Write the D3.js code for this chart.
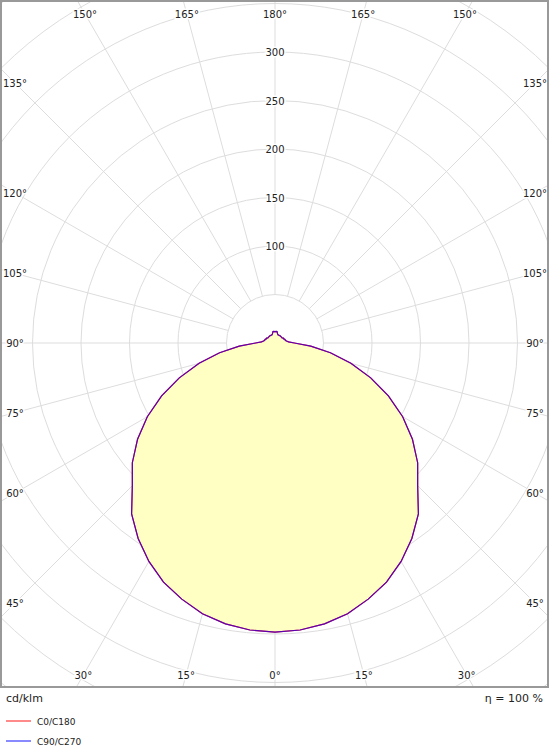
<!DOCTYPE html><html><head><meta charset="utf-8"><script src="https://cdn.jsdelivr.net/npm/d3@7"></script>
<style>body{margin:0;background:#fff}text{font-family:"DejaVu Sans",sans-serif;font-size:10px;fill:#222}</style></head><body><svg width="550" height="750"></svg>
<script>
const angles=d3.range(0,181,5);
const c0=[298,297,294,289,281,272,260,246,230,208,192,173,152,129,105,81,58,37,20,14,12,11,11,10,10,9,9,9,9,9,9,9,9,10,12,12,11.5];
const c90=c0.slice();
const ringValues=[50,100,150,200,250,300,350,400,450,500,550];
const ringLabels=[100,150,200,250,300];
const spokeAngles=d3.range(0,360,15);
const svg=d3.select("svg");
const cx=275,cy=343,L=0,T=0,R=549,B=687;
const r=d3.scaleLinear().domain([0,100]).range([0,97]);
svg.append("clipPath").attr("id","c").append("rect").attr("x",1).attr("y",1).attr("width",547).attr("height",685);
const g=svg.append("g").attr("clip-path","url(#c)");
const gr=g.append("g").attr("transform",`translate(${cx},${cy})`);
// angle: 0 down, positive to the right; the left side mirrors
function pt(a,v,side){const t=a*Math.PI/180;return [side*r(v)*Math.sin(t),r(v)*Math.cos(t)];}
gr.selectAll(".ring").data(ringValues).join("circle").attr("r",d=>r(d)).attr("fill","none").attr("stroke","#ddd");
gr.selectAll(".sp").data(spokeAngles).join("line").each(function(d){const t=d*Math.PI/180;d3.select(this).attr("x1",r(50)*Math.sin(t)).attr("y1",r(50)*Math.cos(t)).attr("x2",900*Math.sin(t)).attr("y2",900*Math.cos(t));}).attr("stroke","#ddd");
function curve(vals){const right=angles.map((a,i)=>pt(a,vals[i],1));const left=angles.map((a,i)=>pt(a,vals[i],-1)).reverse();return right.concat(left);}
const line=d3.line().curve(d3.curveLinearClosed);
gr.append("path").attr("d",line(curve(c0))).attr("fill","#ffffc4").attr("stroke","none");
gr.append("path").attr("d",line(curve(c0))).attr("fill","none").attr("stroke","#ff0000").attr("stroke-width",1.2);
gr.append("path").attr("d",line(curve(c90))).attr("fill","none").attr("stroke","#2200ee").attr("stroke-width",1.2).attr("opacity",0.75);
// ring labels
ringLabels.forEach(v=>{svg.append("text").attr("x",cx).attr("y",cy-r(v)+4).attr("text-anchor","middle").attr("stroke","#fff").attr("stroke-width",3).attr("paint-order","stroke").text(v);});
// angle labels on inset rectangle
const iL=15,iR=535,iT=14,iB=675;
spokeAngles.forEach(d=>{const t=d*Math.PI/180;const dx=Math.sin(t),dy=Math.cos(t);let s=Infinity;
 if(dx>1e-9)s=Math.min(s,(iR-cx)/dx);if(dx<-1e-9)s=Math.min(s,(iL-cx)/dx);if(dy>1e-9)s=Math.min(s,(iB-cy)/dy);if(dy<-1e-9)s=Math.min(s,(iT-cy)/dy);
 const x=cx+s*dx,y=cy+s*dy;const lab=d<=180?d:360-d;
 svg.append("text").attr("x",x).attr("y",y+4).attr("text-anchor","middle").attr("stroke","#fff").attr("stroke-width",3).attr("paint-order","stroke").text(lab+"°");});
svg.append("rect").attr("x",1).attr("y",1).attr("width",547).attr("height",686).attr("fill","none").attr("stroke","#999").attr("stroke-width",2);
svg.append("text").attr("x",6).attr("y",702).style("font-size","11px").text("cd/klm");
svg.append("text").attr("x",543).attr("y",702).attr("text-anchor","end").style("font-size","11px").text("η = 100 %");
const leg=[["C0/C180","#ff8a8a"],["C90/C270","#8a8aff"]];
leg.forEach((l,i)=>{svg.append("line").attr("x1",6).attr("x2",31).attr("y1",721+i*20).attr("y2",721+i*20).attr("stroke",l[1]).attr("stroke-width",2);
svg.append("text").attr("x",37).attr("y",725+i*20).style("font-size","9px").text(l[0]);});
</script></body></html>
